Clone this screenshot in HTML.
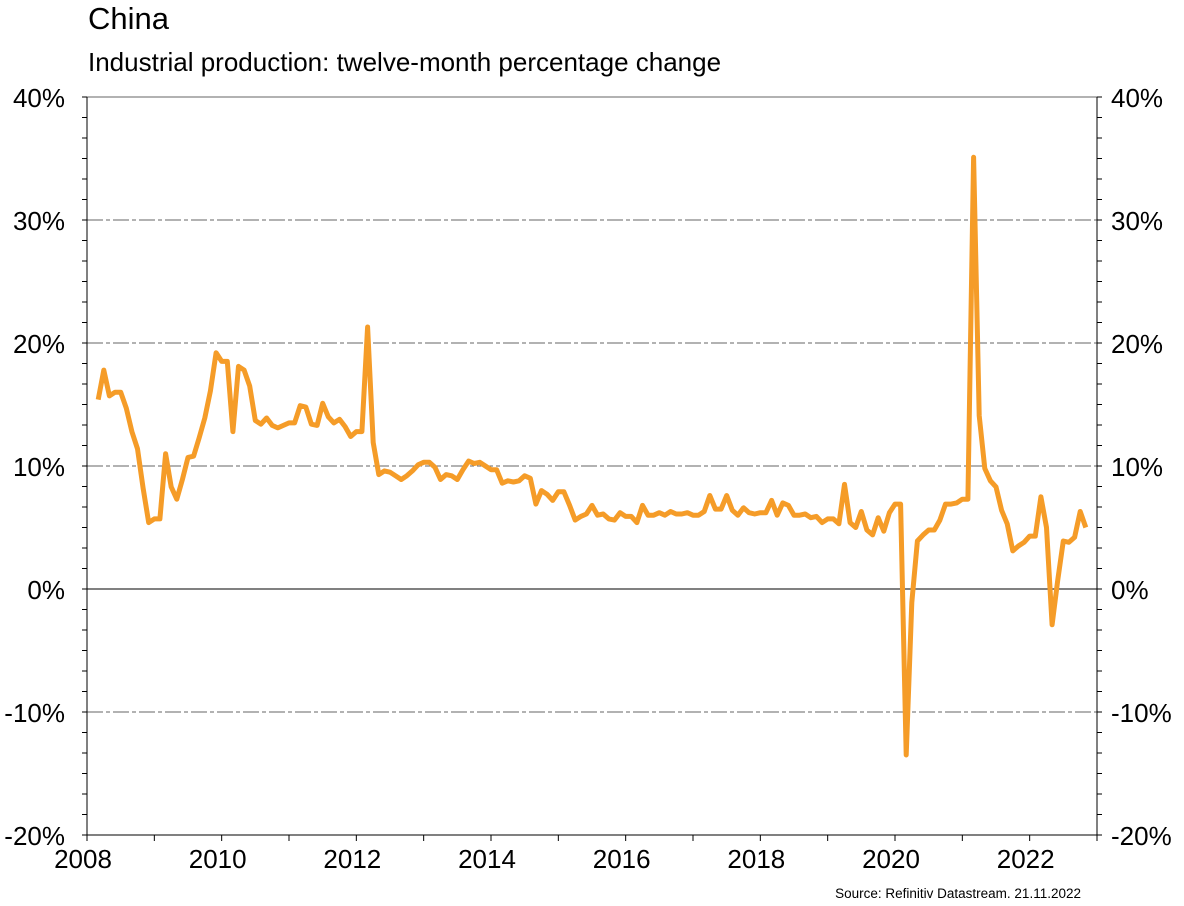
<!DOCTYPE html>
<html><head><meta charset="utf-8"><style>
body{margin:0;background:#fff;font-family:"Liberation Sans",Arial,sans-serif;}
svg text{font-family:"Liberation Sans",Arial,sans-serif;}
</style></head><body>
<svg id="chart" width="1184" height="901">
<text x="88" y="29" font-size="31" fill="#000">China</text>
<text x="88" y="71" font-size="26" fill="#000">Industrial production: twelve-month percentage change</text>
<text x="1081" y="898" font-size="13.5" text-anchor="end" fill="#000">Source: Refinitiv Datastream. 21.11.2022</text>
<g id="grid"></g><g id="axes"></g><g id="series"></g>
</svg>
<script>
const yTicks=[-20,-10,0,10,20,30,40];
const xTicks=[2008,2010,2012,2014,2016,2018,2020,2022];
const startYear=2008, startMonth=2;
const values=[15.4,17.8,15.7,16.0,16.0,14.7,12.8,11.4,8.2,5.4,5.7,
5.7,11.0,8.3,7.3,8.9,10.7,10.8,12.3,13.9,16.1,19.2,18.5,
18.5,12.8,18.1,17.8,16.5,13.7,13.4,13.9,13.3,13.1,13.3,13.5,
13.5,14.9,14.8,13.4,13.3,15.1,14.0,13.5,13.8,13.2,12.4,12.8,
12.8,21.3,11.9,9.3,9.6,9.5,9.2,8.9,9.2,9.6,10.1,10.3,
10.3,9.9,8.9,9.3,9.2,8.9,9.7,10.4,10.2,10.3,10.0,9.7,
9.7,8.6,8.8,8.7,8.8,9.2,9.0,6.9,8.0,7.7,7.2,7.9,
7.9,6.8,5.6,5.9,6.1,6.8,6.0,6.1,5.7,5.6,6.2,5.9,
5.9,5.4,6.8,6.0,6.0,6.2,6.0,6.3,6.1,6.1,6.2,6.0,
6.0,6.3,7.6,6.5,6.5,7.6,6.4,6.0,6.6,6.2,6.1,6.2,
6.2,7.2,6.0,7.0,6.8,6.0,6.0,6.1,5.8,5.9,5.4,5.7,
5.7,5.3,8.5,5.4,5.0,6.3,4.8,4.4,5.8,4.7,6.2,6.9,
6.9,-13.5,-1.1,3.9,4.4,4.8,4.8,5.6,6.9,6.9,7.0,7.3,
7.3,35.1,14.1,9.8,8.8,8.3,6.4,5.3,3.1,3.5,3.8,4.3,
4.3,7.5,5.0,-2.9,0.7,3.9,3.8,4.2,6.3,5.0];
const L=87,R=1097,T=97,B=835,x0=2008,x1=2023,yMin=-20,yMax=40;
const xs=t=>L+(t-x0)/(x1-x0)*(R-L);
const ys=v=>B-(v-yMin)/(yMax-yMin)*(B-T);
const NS="http://www.w3.org/2000/svg";
function mk(tag,attrs,parent){const e=document.createElementNS(NS,tag);for(const k in attrs)e.setAttribute(k,attrs[k]);document.getElementById(parent).appendChild(e);return e;}
yTicks.forEach(v=>{
  if(v!==yMin){
    const g=mk('line',{x1:L,x2:R,y1:ys(v),y2:ys(v),stroke:v===0?'#000':'#666','stroke-width':1,'stroke-dasharray':(v===0||v===yMax)?'none':'16,3,4,3'},'grid');
    
    
  }
  const a=mk('text',{x:L-22,y:ys(v)+10,'font-size':26,'text-anchor':'end'},'axes');a.textContent=v+'%';
  
  
  const b=mk('text',{x:R+14,y:ys(v)+10,'font-size':26},'axes');b.textContent=v+'%';
  
  
});
for(let i=0;i<=36;i++){const v=yMin+i*(yMax-yMin)/36;const y=ys(v);
  mk('line',{x1:L-5,x2:L,y1:y,y2:y,stroke:'#000'},'axes');
  mk('line',{x1:R,x2:R+5,y1:y,y2:y,stroke:'#000'},'axes');}
for(let yr=x0;yr<=x1;yr++){mk('line',{x1:xs(yr),x2:xs(yr),y1:B,y2:B+6,stroke:'#000'},'axes');}
xTicks.forEach(t=>{const a=mk('text',{x:xs(t)-4,y:B+33,'font-size':26,'text-anchor':'middle'},'axes');a.textContent=t;
  
  });
const la=mk('line',{x1:L,x2:L,y1:T,y2:B,stroke:'#000'},'axes');


const ra=mk('line',{x1:R,x2:R,y1:T,y2:B,stroke:'#000'},'axes');


const ba=mk('line',{x1:L,x2:R,y1:B,y2:B,stroke:'#000'},'axes');


const pts=values.map((v,i)=>{const t=startYear+(startMonth+i)/12;return xs(t).toFixed(1)+','+ys(v).toFixed(1);});
const line=mk('polyline',{points:pts.join(' '),fill:'none',stroke:'#F59C28','stroke-width':5,'stroke-linejoin':'round'},'series');


</script>
</body></html>
